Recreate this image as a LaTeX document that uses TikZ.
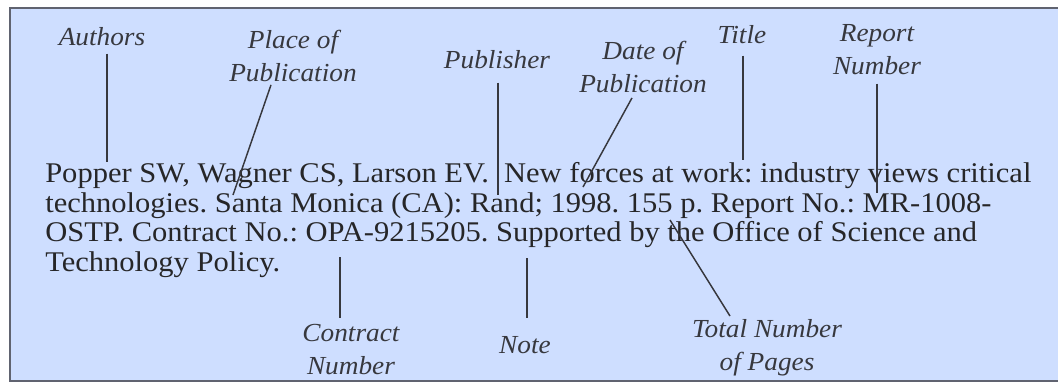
\documentclass[tikz,border=0pt]{standalone}
\usepackage{fontspec}
\setmainfont{Liberation Serif}
\newfontfamily\citefont{Liberation Serif}[FakeStretch=1.07]
\newfontfamily\tagfont{Liberation Serif}[FakeStretch=1.05]
\usepackage{tikz}
\definecolor{cardfill}{RGB}{206,222,255}
\definecolor{cardedge}{RGB}{96,99,112}
\definecolor{inkgray}{RGB}{38,38,40}
\definecolor{tagink}{RGB}{55,56,62}
\frenchspacing

\begin{document}
\begin{tikzpicture}[x=0.75pt,y=-0.75pt,
  tag/.style={font=\tagfont\fontsize{19.5}{24.75}\selectfont\itshape, text=tagink, align=center, anchor=base, inner sep=2pt},
  pointer/.style={draw=tagink, line width=1.1pt}]
\useasboundingbox (0,0) rectangle (1058,383);
\draw [cardedge, fill=cardfill, line width=1.6pt] (10,8) rectangle (1070,381);
% the citation (base = last line)
\node [anchor=base west, inner sep=0pt, align=left, text=inkgray, font=\citefont\fontsize{21.4}{22.1}\selectfont] (citation) at (45,271)
  {Popper SW, Wagner CS, Larson EV.\ \ New forces at work: industry views critical\\
   technologies. Santa Monica (CA): Rand; 1998. 155 p. Report No.: MR-1008-\\
   OSTP. Contract No.: OPA-9215205. Supported by the Office of Science and\\
   Technology Policy.};
% labels above
\node [tag] (authors) at (102,45) {Authors};
\node [tag] (placepub) at (293,81) {Place of\\Publication};
\node [tag] (publisher) at (497,68) {Publisher};
\node [tag] (datepub) at (643,92) {Date of\\Publication};
\node [tag] (title) at (742,43) {Title};
\node [tag] (reportno) at (877,74) {Report\\Number};
% labels below
\node [tag] (contractno) at (351,374) {Contract\\Number};
\node [tag] (note) at (525,353) {Note};
\node [tag] (totalpages) at (767,370) {Total Number\\of Pages};
% ends in the text
\coordinate (authorsEnd) at (107,162);
\coordinate (placeEnd) at (233,195);
\coordinate (publisherEnd) at (498,195);
\coordinate (dateEnd) at (583,187);
\coordinate (titleEnd) at (743,160);
\coordinate (reportEnd) at (877,193);
\coordinate (contractEnd) at (340,257);
\coordinate (noteEnd) at (527,258);
\coordinate (pagesEnd) at (670,220);
% pointers
\draw [pointer, shorten <=4pt] (authors.south -| authorsEnd) -- (authorsEnd);
\draw [pointer] ([xshift=-16.5pt,yshift=-0.5pt]placepub.south) -- (placeEnd);
\draw [pointer, shorten <=8.5pt] (publisher.south -| publisherEnd) -- (publisherEnd);
\draw [pointer] ([xshift=-8.25pt,yshift=-2pt]datepub.south) -- (dateEnd);
\draw [pointer, shorten <=7pt] (title.south -| titleEnd) -- (titleEnd);
\draw [pointer, shorten <=4.7pt] (reportno.south -| reportEnd) -- (reportEnd);
\draw [pointer, shorten >=2pt] (contractEnd) -- (contractno.north -| contractEnd);
\draw [pointer, shorten >=11pt] (noteEnd) -- (note.north -| noteEnd);
\draw [pointer] (pagesEnd) -- ([xshift=-27.75pt]totalpages.north);
\end{tikzpicture}
\end{document}
